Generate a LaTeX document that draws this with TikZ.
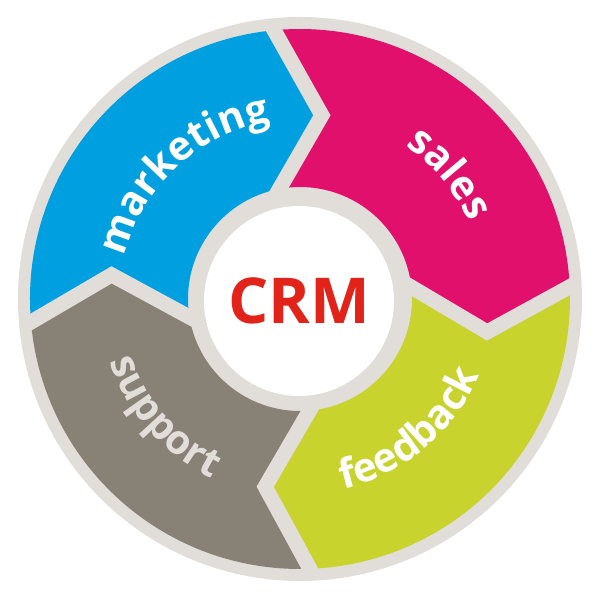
\documentclass[tikz,border=0pt]{standalone}
\usepackage{fontspec}
\setmainfont{Open Sans}
\usetikzlibrary{calc,decorations.text}

\definecolor{ringgray}{HTML}{E1DEDA}
\definecolor{mktblue}{HTML}{009FE0}
\definecolor{salespink}{HTML}{E0106C}
\definecolor{fbgreen}{HTML}{C9D32D}
\definecolor{supgray}{HTML}{888176}
\definecolor{crmred}{HTML}{E2231A}
\newcommand\labelfont{\fontsize{11.5}{13}\selectfont\bfseries}

\begin{document}
\begin{tikzpicture}[gap/.style={draw=ringgray, line width=1.5mm, line join=miter},
                    arclabel/.style={decorate, decoration={text along path,
                      text align=center, text color=#1}}]

  \useasboundingbox (-3.00,-2.96) rectangle (3.00,2.99);
  \fill[ringgray] (0,0) circle (2.82);

  % chevron corners: o = outer, t = tip, i = inner
  \coordinate (ms-o) at (95.5:2.70);  \coordinate (ms-t) at (83.2:1.85);  \coordinate (ms-i) at (100.6:1.12);
  \coordinate (sf-o) at (2.6:2.70);   \coordinate (sf-t) at (-10:1.90);   \coordinate (sf-i) at (6.1:1.12);
  \coordinate (fs-o) at (-87.9:2.70); \coordinate (fs-t) at (-100.5:1.91); \coordinate (fs-i) at (-85.1:1.12);
  \coordinate (sm-o) at (184.9:2.70); \coordinate (sm-t) at (172.7:1.90); \coordinate (sm-i) at (189.3:1.12);

  \fill[mktblue] (sm-o) arc[start angle=184.9, end angle=95.5, radius=2.70] -- (ms-t) -- (ms-i)
        arc[start angle=100.6, end angle=189.3, radius=1.12] -- (sm-t) -- cycle;
  \fill[salespink] (ms-o) arc[start angle=95.5, end angle=2.6, radius=2.70] -- (sf-t) -- (sf-i)
        arc[start angle=6.1, end angle=100.6, radius=1.12] -- (ms-t) -- cycle;
  \fill[fbgreen] (sf-o) arc[start angle=2.6, end angle=-87.9, radius=2.70] -- (fs-t) -- (fs-i)
        arc[start angle=-85.1, end angle=6.1, radius=1.12] -- (sf-t) -- cycle;
  \fill[supgray] (fs-o) arc[start angle=-87.9, end angle=-175.1, radius=2.70] -- (sm-t) -- (sm-i)
        arc[start angle=-170.7, end angle=-85.1, radius=1.12] -- (fs-t) -- cycle;

  \foreach \b in {ms,sf,fs,sm}
    \draw[gap] ($(\b-t)!1.08!(\b-o)$) -- (\b-t) -- ($(\b-t)!1.2!(\b-i)$);

  \node[circle, fill=white, minimum size=1.90cm, inner sep=0pt, text=crmred,
        font=\fontsize{18}{20}\selectfont\bfseries] (crm) at (-0.01,-0.02) {CRM};

  \path[arclabel=white, decoration={text={|\labelfont|marketing}}]
    (183:1.80) arc[start angle=183, end angle=83, radius=1.80];
  \path[arclabel=white, decoration={text={|\labelfont|sales}}]
    (90:1.86) arc[start angle=90, end angle=-10, radius=1.86];
  \path[arclabel=white, decoration={text={|\labelfont|feedback}}]
    (-100:1.95) arc[start angle=-100, end angle=0, radius=1.95];
  \path[arclabel=ringgray, decoration={text={|\labelfont|support}}]
    (171:2.00) arc[start angle=171, end angle=271, radius=2.00];
\end{tikzpicture}
\end{document}
